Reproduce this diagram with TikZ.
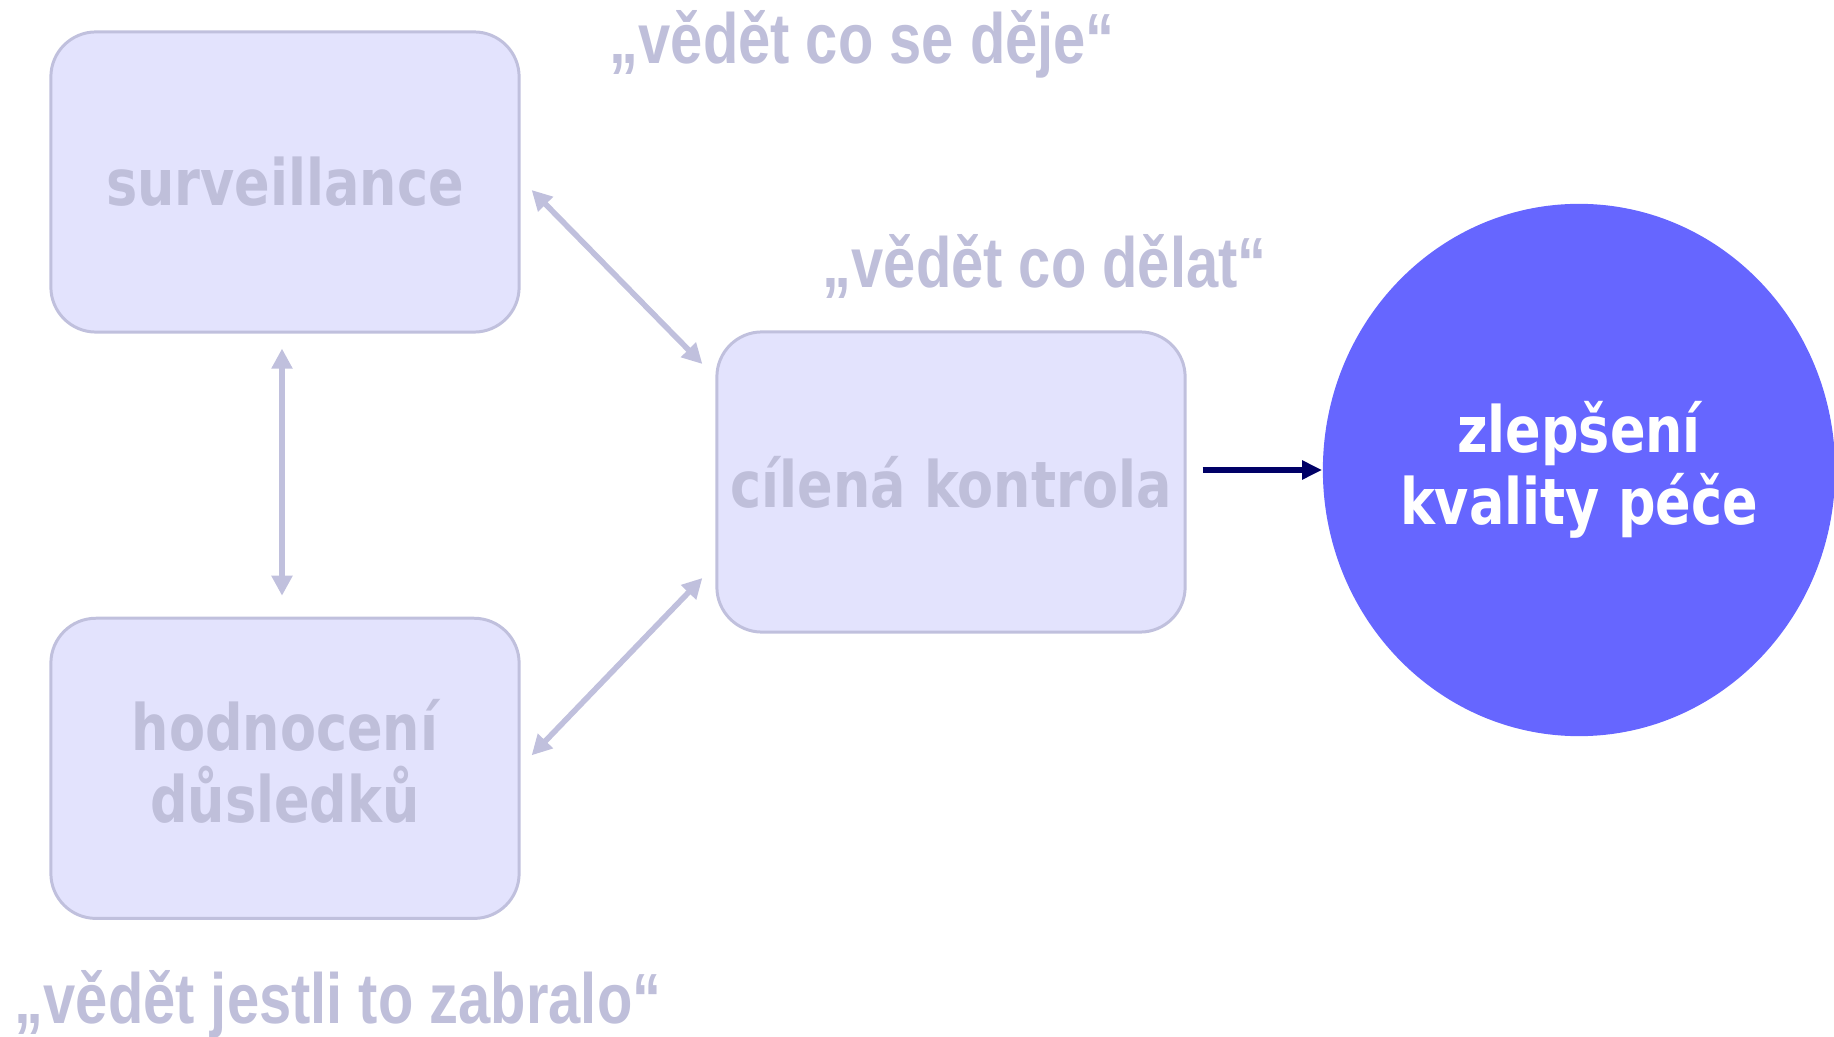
\documentclass[tikz,border=0pt]{standalone}
\usepackage{fontspec}
\usepackage{xcolor}
\usepackage{tikz}
\usetikzlibrary{shapes.geometric,arrows.meta,positioning,calc}

\newfontfamily\blkfont{DejaVu Sans}[FakeStretch=0.82]
\newfontfamily\quotefont{Liberation Sans}[FakeStretch=0.815]

\definecolor{blkfill}{HTML}{E3E3FD}
\definecolor{blkline}{HTML}{C0C0DD}
\definecolor{blktext}{HTML}{BFBFDA}
\definecolor{goalfill}{HTML}{6666FF}
\definecolor{arrnavy}{HTML}{000066}

\begin{document}
\begin{tikzpicture}[
  x=0.01cm, y=-0.01cm,
  blk/.style={rectangle, draw=blkline, line width=0.85pt, fill=blkfill,
              rounded corners=0.45cm, minimum width=4.68cm, minimum height=3cm,
              align=center, text=blktext,
              font={\blkfont\bfseries\fontsize{18.2}{20.5}\selectfont}},
  goal/.style={ellipse, fill=goalfill, minimum width=5.12cm, minimum height=5.32cm,
               inner sep=0pt, align=center, text=white,
               font={\blkfont\bfseries\fontsize{18.2}{20.6}\selectfont}},
  lbl/.style={inner sep=0pt, anchor=base west, text=blktext,
              font={\quotefont\bfseries\fontsize{20.2}{22}\selectfont}},
  dbl/.style={{Triangle[length=0.2cm,width=0.2cm]}-{Triangle[length=0.2cm,width=0.2cm]},
              line width=1.6pt, draw=blkline},
  arr/.style={-{Triangle[length=0.2cm,width=0.18cm]}, line width=1.8pt, draw=arrnavy}
]
\useasboundingbox (0,0) rectangle (1834,1037);

\node[blk]                    (surv) at (285,182) {surveillance};
\node[blk, below=2.83cm of surv, text depth=0.15cm] (hod) {hodnocení\\důsledků};
\node[blk]                    (cil)  at (951,482) {cílená kontrola};
\node[goal]                   (zlep) at (1579,470) {zlepšení\\kvality péče};

\node[lbl] (q1) at (609,64)   {„vědět co se děje“};
\node[lbl] (q2) at (822,288)  {„vědět co dělat“};
\node[lbl] (q3) at (14,1023)  {„vědět jestli to zabralo“};

\draw[dbl] ([shift={(-3,15)}]surv.south) -- ([shift={(-3,-21)}]hod.north);
\draw[dbl] ([shift={(11,8)}]surv.east) -- ([shift={(-13,-118)}]cil.west);
\draw[dbl] ([shift={(11,-13)}]hod.east) -- ([shift={(-13,96)}]cil.west);
\draw[arr] (cil.east |- zlep.west) ++(16,0) -- (zlep.west);
\end{tikzpicture}
\end{document}
